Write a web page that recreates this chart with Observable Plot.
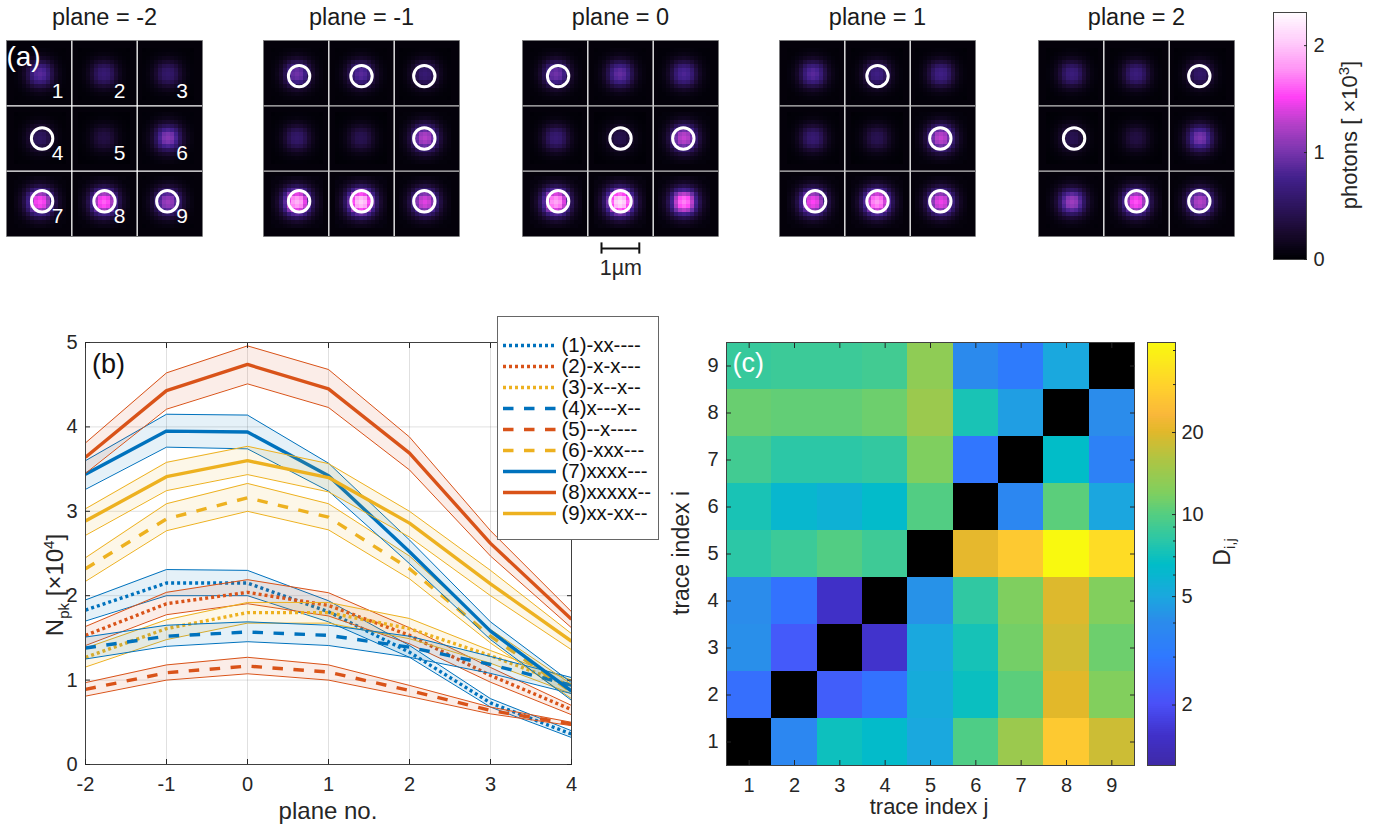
<!DOCTYPE html>
<html><head><meta charset="utf-8">
<script src="https://cdn.jsdelivr.net/npm/d3@7"></script>
<script src="https://cdn.jsdelivr.net/npm/@observablehq/plot@0.6"></script>
<style>
html,body{margin:0;padding:0;background:#fff}
#page{position:relative;width:1383px;height:825px;overflow:hidden;font-family:"Liberation Sans",Arial,sans-serif;color:#262626}
#page svg{position:absolute;display:block;overflow:visible;max-width:none}
.lab{position:absolute;white-space:nowrap;transform:translate(-50%,-50%);font-size:23px;line-height:1}
.lab.rot{transform:translate(-50%,-50%) rotate(-90deg)}
.lab sub,.lab sup{font-size:15px;line-height:0}
</style></head><body><div id="page"></div>
<script>
// ---------- data: panel (a)
const planeLabels = [-2,-1,0,1,2];
const spotPeaks = [ // photons x10^3, spots 1..9 per plane
  [.85,.60,.55,.50,.35,1.05,1.55,1.60,1.15],
  [.95,.85,.60,.55,.42,1.25,1.90,2.05,1.40],
  [.95,.90,.80,.60,.40,1.30,1.85,2.15,1.70],
  [.85,.70,.70,.60,.42,1.30,1.50,1.80,1.45],
  [.65,.65,.55,.42,.35,1.00,1.15,1.55,1.25]];
const circled = [[4,7,8,9],[1,2,3,6,7,8,9],[1,5,6,7,8],[2,6,7,8,9],[3,4,8,9]];
const spotKernel = [
 [.02,.03,.03,.04,.05,.06,.06,.06,.05,.04,.03,.03,.02],
 [.03,.03,.05,.07,.09,.11,.12,.11,.09,.07,.05,.03,.03],
 [.03,.05,.08,.13,.18,.22,.24,.22,.18,.13,.08,.05,.03],
 [.04,.07,.13,.22,.34,.42,.45,.42,.34,.22,.13,.07,.04],
 [.05,.09,.18,.34,.55,.70,.75,.70,.55,.34,.18,.09,.05],
 [.06,.11,.22,.42,.70,.90,.95,.90,.70,.42,.22,.11,.06],
 [.06,.12,.24,.45,.75,.95,1.0,.95,.75,.45,.24,.12,.06],
 [.06,.11,.22,.42,.70,.90,.95,.90,.70,.42,.22,.11,.06],
 [.05,.09,.18,.34,.55,.70,.75,.70,.55,.34,.18,.09,.05],
 [.04,.07,.13,.22,.34,.42,.45,.42,.34,.22,.13,.07,.04],
 [.03,.05,.08,.13,.18,.22,.24,.22,.18,.13,.08,.05,.03],
 [.03,.03,.05,.07,.09,.11,.12,.11,.09,.07,.05,.03,.03],
 [.02,.03,.03,.04,.05,.06,.06,.06,.05,.04,.03,.03,.02]];
const spotCellCentres = [8,24,40];
const ringCentres = [8.9,24.5,40.2];
const labelCentres = [12.8,28.3,43.9];
const photonStops = [0,.25,.5,.75,1,1.25,1.5,1.75,2,2.31];
const photonColors = ["#000005","#1a0a30","#2e1560","#42208c","#7a35ae","#b440c8","#ff40f5","#ff90f5","#ffc8fa","#ffffff"];

// ---------- data: panel (b)
const planeNos = [-2,-1,0,1,2,3,4];
const traceNames = ["(1)-xx----","(2)-x-x---","(3)-x--x--","(4)x---x--","(5)--x----","(6)-xxx---","(7)xxxx---","(8)xxxxx--","(9)xx-xx--"];
const traceColors = ["#0072BD","#D95319","#EDB120","#0072BD","#D95319","#EDB120","#0072BD","#D95319","#EDB120"];
const traceDash = ["3,3","3,3","3,3","10.5,10.5","10.5,10.5","10.5,10.5",null,null,null];
const traceMean = [
 [1.83,2.15,2.15,1.81,1.33,.73,.36],
 [1.53,1.905,2.04,1.885,1.53,1.055,.65],
 [1.27,1.61,1.80,1.80,1.61,1.29,.93],
 [1.38,1.52,1.57,1.53,1.39,1.185,.94],
 [.89,1.087,1.166,1.095,.877,.64,.48],
 [2.32,2.91,3.16,2.93,2.32,1.52,.86],
 [3.44,3.95,3.94,3.42,2.52,1.58,.87],
 [3.64,4.43,4.74,4.45,3.69,2.62,1.72],
 [2.885,3.41,3.60,3.40,2.86,2.14,1.46]];
const traceUpper = [
 [1.95,2.31,2.30,1.94,1.41,.78,.40],
 [1.635,2.04,2.19,2.035,1.62,1.15,.70],
 [1.38,1.715,1.92,1.92,1.73,1.35,1.0],
 [1.51,1.65,1.69,1.65,1.52,1.28,1.03],
 [.97,1.18,1.27,1.18,.937,.68,.50],
 [2.45,3.09,3.33,3.09,2.47,1.60,.95],
 [3.60,4.15,4.14,3.57,2.66,1.69,.97],
 [3.81,4.64,4.96,4.68,3.88,2.77,1.81],
 [3.03,3.58,3.77,3.565,3.0,2.30,1.55]];
const traceLower = [
 [1.70,2.0,2.0,1.69,1.27,.68,.32],
 [1.41,1.775,1.905,1.76,1.43,.975,.59],
 [1.155,1.48,1.675,1.675,1.49,1.2,.84],
 [1.25,1.40,1.455,1.41,1.27,1.08,.84],
 [.81,1.0,1.075,1.0,.806,.60,.46],
 [2.17,2.77,3.0,2.78,2.2,1.44,.78],
 [3.26,3.76,3.74,3.24,2.38,1.48,.76],
 [3.45,4.21,4.51,4.23,3.49,2.47,1.62],
 [2.715,3.245,3.435,3.23,2.695,2.0,1.36]];

// ---------- data: panel (c)
const traceIdx = [1,2,3,4,5,6,7,8,9];
const distanceRows = { // D(i,j), key i, values j=1..9
 9:[8.5,8.7,8.7,9,13,3.9,3.1,5,null],
 8:[10.8,10.5,10.5,11,14,7.3,4.6,null,4],
 7:[9,8,8,8.3,11.8,2.9,null,6.5,3.4],
 6:[7.3,6,5.6,6.3,9.8,null,3.7,10.2,4.9],
 5:[8,8.7,9.8,8.8,null,20.5,27,42,32],
 4:[4,2.8,1.5,null,4.2,8.2,11.8,19.5,12],
 3:[4.1,2.2,null,1.55,5,7.2,11.3,18.5,11],
 2:[2.7,null,2.3,2.8,5.2,6.8,10.2,20,12],
 1:[null,3.7,6.9,6.3,5,9.6,14,27,18]};
const distTicks = [2,5,10,20];
const distMinor = [3,4,6,7,8,9,30,40];
const distDomain = [1.2,42.8];
const parulaPos = [0,.065,.143,.255,.338,.398,.472,.531,.592,.641,.712,.787,.826,.894,1];
const parulaCol = ["#3F2AA8","#4030C8","#4A50F8","#2F79FF","#2B8CEB","#1AA8DE","#00BDC8","#2CC7A6","#55CE80","#80CF5E","#A9C646","#E2B82A","#FAB73A","#FFD22C","#F9FB0E"];

// ---------- helpers
const page = document.getElementById("page");
const FONT = '"Liberation Sans",Arial,sans-serif';
const INK = "#262626";
const noText = () => "";
function place(svg,left,top){
  svg.querySelectorAll("text").forEach(t=>{if(!t.textContent.trim()) t.remove();});
  svg.style.left=left+"px";svg.style.top=top+"px";page.appendChild(svg);return svg;
}
function label(html,x,y,rot,size){const d=document.createElement("div");d.className="lab"+(rot?" rot":"");d.innerHTML=html;d.style.left=x+"px";d.style.top=y+"px";if(size)d.style.fontSize=size+"px";page.appendChild(d);}
const photonRamp = d3.scaleLinear().domain(photonStops).range(photonColors).interpolate(d3.interpolateRgb);
const photonInterp = t=>photonRamp(t*2.31);
const parulaRamp = d3.scaleLinear().domain(parulaPos).range(parulaCol).interpolate(d3.interpolateRgb);

// ---------- panel (a)
const panelLeft=[6,263,522,779,1038];
planeLabels.forEach((plane,p)=>{
  const cells=[];
  spotPeaks[p].forEach((peak,s)=>{
    const cx=spotCellCentres[s%3], cy=spotCellCentres[Math.floor(s/3)];
    spotKernel.forEach((row,r)=>row.forEach((k,c)=>cells.push({x:cx+c-6,y:cy+r-6,v:peak*k})));
  });
  const rings=circled[p].map(n=>({x:ringCentres[(n-1)%3],y:ringCentres[Math.floor((n-1)/3)]}));
  const marks=[
    Plot.frame({fill:"#04010a",stroke:null}),
    Plot.rect(cells,{x1:"x",x2:d=>d.x+1,y1:"y",y2:d=>d.y+1,fill:"v",shapeRendering:"crispEdges"}),
    Plot.ruleX([16.33,32.67],{stroke:"#fff",strokeWidth:1.3}),
    Plot.ruleY([16.33,32.67],{stroke:plane===-2?"#fff":"#c4c4c4",strokeWidth:1.3}),
    Plot.dot(rings,{x:"x",y:"y",r:10.7,stroke:"#fff",strokeWidth:3}),
    Plot.frame({stroke:"#777",strokeWidth:.6}),
    Plot.text([`plane = ${plane}`],{frameAnchor:"top",dy:-23,fontSize:23.5,fill:"#1a1a1a",lineAnchor:"middle"})
  ];
  if(plane===-2){
    marks.push(Plot.text(traceIdx,{x:d=>labelCentres[(d-1)%3],y:d=>labelCentres[Math.floor((d-1)/3)],text:d=>String(d),fill:"#fff",fontSize:21}));
    marks.push(Plot.text(["(a)"],{x:4.25,y:4.25,fill:"#fff",fontSize:28}));
  }
  if(plane===0){
    marks.push(Plot.ruleY([52],{x1:19.75,x2:29.2,stroke:"#111",strokeWidth:2}));
    marks.push(Plot.ruleX([19.75,29.2],{y1:50.6,y2:53.4,stroke:"#111",strokeWidth:2}));
    marks.push(Plot.text(["1µm"],{x:24.6,y:56.8,fill:INK,fontSize:21.5}));
  }
  place(Plot.plot({width:196,height:276,marginTop:40,marginBottom:40,marginLeft:0,marginRight:0,
    x:{domain:[0,49],axis:null},y:{domain:[49,0],axis:null},
    color:{type:"linear",domain:[0,2.31],interpolate:photonInterp,clamp:true},
    style:{background:"transparent",fontFamily:FONT,overflow:"visible"},
    marks}),panelLeft[p],0);
});
// colour bar (a)
const photonLevels=d3.range(0,2.31,0.02);
place(Plot.plot({width:33+40,height:247,marginTop:0,marginBottom:0,marginLeft:0,marginRight:40,
  x:{domain:[0,1],axis:null},y:{domain:[0,2.31],axis:null},
  color:{type:"linear",domain:[0,2.31],interpolate:photonInterp,clamp:true},
  style:{fontFamily:FONT,fontSize:"20px",color:INK,background:"transparent",overflow:"visible"},
  marks:[
    Plot.rect(photonLevels,{x1:0,x2:1,y1:d=>d,y2:d=>Math.min(d+0.03,2.31),fill:d=>d,shapeRendering:"crispEdges"}),
    Plot.frame({stroke:"#444",strokeWidth:1}),
    Plot.axisY({anchor:"right",ticks:[0,1,2],tickSize:-3,tickPadding:10,label:null,tickFormat:d=>String(d)})
  ]}),1273,12);
label('photons [ ×10<sup>3</sup>]',1350,135,true,22);

// ---------- panel (b)
const traces=traceNames.map((name,s)=>planeNos.map((x,k)=>({x,mean:traceMean[s][k],hi:traceUpper[s][k],lo:traceLower[s][k]})));
const bMarks=[
  Plot.ruleX([-1,0,1,2,3],{stroke:"#000",strokeOpacity:.12,strokeWidth:1}),
  Plot.ruleY([1,2,3,4],{stroke:"#000",strokeOpacity:.12,strokeWidth:1})
];
traces.forEach((t,s)=>{
  const col=traceColors[s];
  bMarks.push(Plot.areaY(t,{x:"x",y1:"lo",y2:"hi",fill:col,fillOpacity:.1,clip:true}));
  bMarks.push(Plot.lineY(t,{x:"x",y:"hi",stroke:col,strokeWidth:1,clip:true}));
  bMarks.push(Plot.lineY(t,{x:"x",y:"lo",stroke:col,strokeWidth:1,clip:true}));
  bMarks.push(Plot.lineY(t,{x:"x",y:"mean",stroke:col,strokeWidth:3.4,strokeDasharray:traceDash[s],strokeLinecap:"butt",clip:true}));
});
bMarks.push(
  Plot.frame({stroke:"#404040",strokeWidth:1}),
  Plot.axisX({ticks:planeNos,tickSize:-5,tickPadding:17,tickFormat:d=>String(d),label:null}),
  Plot.axisX({anchor:"top",ticks:planeNos,tickSize:-5,tickFormat:noText,label:null}),
  Plot.axisY({ticks:[0,1,2,3,4,5],tickSize:-5,tickPadding:13,tickFormat:d=>String(d),label:null}),
  Plot.axisY({anchor:"right",ticks:[0,1,2,3,4,5],tickSize:-5,tickFormat:noText,label:null}),
  Plot.text(["(b)"],{x:-1.716,y:4.74,fill:"#111",fontSize:27})
);
place(Plot.plot({width:566,height:462,marginLeft:40,marginRight:40,marginTop:10,marginBottom:30,
  x:{domain:[-2,4],axis:null},y:{domain:[0,5],axis:null},
  style:{fontFamily:FONT,fontSize:"20px",color:INK,background:"transparent",overflow:"visible"},
  marks:bMarks}),45,332);
label('plane no.',328,811,false,24);
label('N<sub>pk</sub> [×10<sup>4</sup>]',55,585,true,24);

// legend
place(Plot.plot({width:160,height:222,marginLeft:5,marginRight:102,marginTop:0,marginBottom:0,
  x:{domain:[0,1],axis:null},y:{type:"point",domain:traceNames,range:[14,209],axis:null},
  style:{fontFamily:FONT,background:"#fff",border:"1px solid #666",boxSizing:"content-box",overflow:"visible"},
  marks:[
    ...traceNames.map((n,i)=>Plot.ruleY([n],{y:d=>d,x1:0,x2:1,stroke:traceColors[i],strokeWidth:3.4,strokeDasharray:traceDash[i]})),
    Plot.text(traceNames,{x:1,y:d=>d,text:d=>d,dx:5,textAnchor:"start",fontSize:20.4,fill:"#111"})
  ]}),497,316);

// ---------- panel (c)
const distCells=[];
for(const i of traceIdx) distanceRows[i].forEach((v,k)=>distCells.push({i,j:k+1,v}));
place(Plot.plot({width:408+50,height:423+40,marginLeft:50,marginRight:0,marginTop:0,marginBottom:40,
  x:{type:"band",domain:traceIdx,padding:0,round:false,axis:null},
  y:{type:"band",domain:[...traceIdx].reverse(),padding:0,round:false,axis:null},
  color:{type:"log",domain:distDomain,interpolate:t=>parulaRamp(t),clamp:true},
  style:{fontFamily:FONT,fontSize:"20px",color:INK,background:"transparent",overflow:"visible"},
  marks:[
    Plot.cell(distCells.filter(d=>d.v==null),{x:"j",y:"i",fill:"#000",shapeRendering:"crispEdges"}),
    Plot.cell(distCells.filter(d=>d.v!=null),{x:"j",y:"i",fill:"v",shapeRendering:"crispEdges"}),
    Plot.frame({stroke:"#404040",strokeWidth:1}),
    Plot.axisX({tickSize:-5,tickPadding:17,label:null}),
    Plot.axisX({anchor:"top",tickSize:-5,tickFormat:noText,label:null}),
    Plot.axisY({tickSize:-5,tickPadding:13,label:null}),
    Plot.axisY({anchor:"right",tickSize:-5,tickFormat:noText,label:null}),
    Plot.text(["(c)"],{x:1,y:9,dx:-1,dy:-3,fill:"#fff",fontSize:27})
  ]}),675.5,342);
label('trace index j',929,807,false,22);
label('trace index i',681,553,true,23);
// colour bar (c)
const distLevels=d3.range(0,1.001,0.005).map(t=>distDomain[0]*Math.pow(distDomain[1]/distDomain[0],t));
const stepRatio=Math.pow(distDomain[1]/distDomain[0],0.007);
place(Plot.plot({width:28+40,height:423,marginTop:0,marginBottom:0,marginLeft:0,marginRight:40,
  x:{domain:[0,1],axis:null},y:{type:"log",domain:distDomain,axis:null},
  color:{type:"log",domain:distDomain,interpolate:t=>parulaRamp(t),clamp:true},
  style:{fontFamily:FONT,fontSize:"20px",color:INK,background:"transparent",overflow:"visible"},
  marks:[
    Plot.rect(distLevels,{x1:0,x2:1,y1:d=>d,y2:d=>Math.min(d*stepRatio,distDomain[1]),fill:d=>d,shapeRendering:"crispEdges"}),
    Plot.frame({stroke:"#404040",strokeWidth:1}),
    Plot.axisY({anchor:"right",ticks:distMinor,tickSize:-3,tickFormat:noText,label:null}),
    Plot.axisY({anchor:"right",ticks:distTicks,tickSize:-4,tickPadding:10,tickFormat:d=>String(d),label:null})
  ]}),1147,342);
label('D<sub>i,j</sub>',1222,552,true,23);
</script></body></html>
